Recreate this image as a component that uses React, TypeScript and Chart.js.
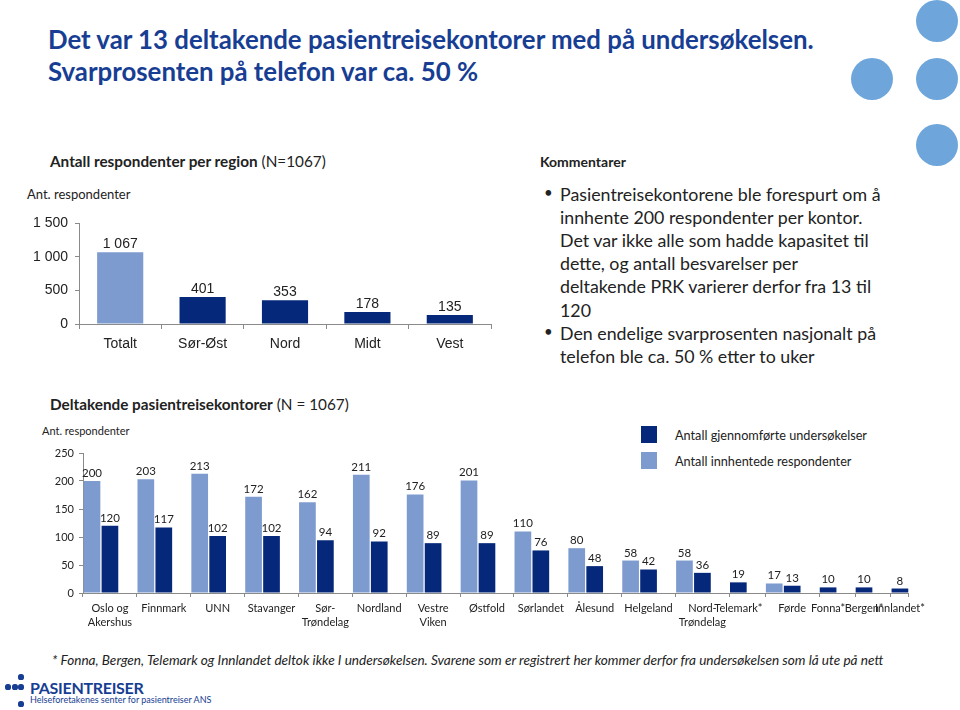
import React, { useEffect, useRef } from "react";
import { Chart, registerables } from "chart.js";
Chart.register(...registerables);

// ---------- Data ----------
const regionLabels = ["Totalt", "Sør-Øst", "Nord", "Midt", "Vest"];
const regionValues = [1067, 401, 353, 178, 135];
const regionTickValues = [0, 500, 1000, 1500];

const officeLabels: (string | string[])[] = [
  ["Oslo og", "Akershus"], "Finnmark", "UNN", "Stavanger", ["Sør-", "Trøndelag"],
  "Nordland", ["Vestre", "Viken"], "Østfold", "Sørlandet", "Ålesund", "Helgeland",
  ["Nord-", "Trøndelag"], "Telemark*", "Førde", "Fonna*", "Bergen*", "Innlandet*",
];
const collectedValues: (number | null)[] = [200, 203, 213, 172, 162, 211, 176, 201, 110, 80, 58, 58, null, 17, null, null, null];
const completedValues: number[] = [120, 117, 102, 102, 94, 92, 89, 89, 76, 48, 42, 36, 19, 13, 10, 10, 8];
const officeTickValues = [0, 50, 100, 150, 200, 250];

const LIGHT = "#7E9BCF";
const DARK = "#06287A";
const AXIS = "#8a8a8a";
const TITLE = "#173E93";
const CAL = "Lato, 'Open Sans', sans-serif";

const fmt = (v: number) => String(v).replace(/\B(?=(\d{3})+(?!\d))/g, " ");

// Build slot layout (light, dark, gap) per office
const slotLabels: (string | string[])[] = [];
const lightSlots: (number | null)[] = [];
const darkSlots: (number | null)[] = [];
const groupStarts: number[] = [];
officeLabels.forEach((lab, i) => {
  groupStarts.push(slotLabels.length);
  if (collectedValues[i] != null) {
    slotLabels.push("");
    lightSlots.push(collectedValues[i]);
    darkSlots.push(null);
  }
  slotLabels.push(lab);
  lightSlots.push(null);
  darkSlots.push(completedValues[i]);
  if (i < officeLabels.length - 1) {
    slotLabels.push("");
    lightSlots.push(null);
    darkSlots.push(null);
  }
});

const valueLabels = (font: string, gap: number) => ({
  id: "valueLabels",
  afterDatasetsDraw(chart: any) {
    const { ctx } = chart;
    ctx.save();
    ctx.font = font;
    ctx.fillStyle = "#222";
    ctx.textAlign = "center";
    ctx.textBaseline = "alphabetic";
    chart.data.datasets.forEach((ds: any, di: number) => {
      const meta = chart.getDatasetMeta(di);
      meta.data.forEach((el: any, i: number) => {
        const v = ds.data[i];
        if (v == null) return;
        ctx.fillText(fmt(v), el.x, el.y - gap);
      });
    });
    ctx.restore();
  },
});

function RegionChart() {
  const ref = useRef<HTMLCanvasElement>(null);
  useEffect(() => {
    const chart = new Chart(ref.current!, {
      type: "bar",
      data: {
        labels: regionLabels,
        datasets: [
          {
            data: regionValues,
            backgroundColor: regionValues.map((_, i) => (i === 0 ? LIGHT : DARK)),
            barPercentage: 0.56,
            categoryPercentage: 1,
          },
        ],
      },
      options: {
        animation: false,
        responsive: false,
        maintainAspectRatio: false,
        layout: { padding: { top: 23, right: 9, left: 0, bottom: 0 } },
        plugins: { legend: { display: false }, tooltip: { enabled: false } },
        scales: {
          x: {
            offset: true,
            grid: { offset: true, drawOnChartArea: false, drawTicks: true, tickLength: 5, color: AXIS },
            border: { color: AXIS },
            ticks: { font: { family: "'Liberation Sans', Arial", size: 14 }, color: "#222", padding: 7, maxRotation: 0, autoSkip: false },
            afterFit: (s: any) => { s.height = 36; },
          },
          y: {
            min: 0,
            max: 1500,
            afterBuildTicks: (s: any) => { s.ticks = regionTickValues.map((v) => ({ value: v })); },
            ticks: { font: { family: "'Liberation Sans', Arial", size: 14 }, color: "#222", padding: 7, callback: (v: any) => fmt(Number(v)) },
            grid: { drawOnChartArea: false, drawTicks: true, tickLength: 4, color: AXIS },
            border: { color: AXIS },
            afterFit: (s: any) => { s.width = 79; },
          },
        },
      },
      plugins: [valueLabels("14px 'Liberation Sans', Arial", 4)],
    } as any);
    return () => chart.destroy();
  }, []);
  return <canvas ref={ref} width={500} height={160} style={{ position: "absolute", left: 0, top: 200, width: 500, height: 160 }} />;
}

function OfficeChart() {
  const ref = useRef<HTMLCanvasElement>(null);
  useEffect(() => {
    const chart = new Chart(ref.current!, {
      type: "bar",
      data: {
        labels: slotLabels as any,
        datasets: [
          { label: "Antall innhentede respondenter", data: lightSlots, backgroundColor: LIGHT, barPercentage: 0.93, categoryPercentage: 1, grouped: false },
          { label: "Antall gjennomførte undersøkelser", data: darkSlots, backgroundColor: DARK, barPercentage: 0.93, categoryPercentage: 1, grouped: false },
        ],
      },
      options: {
        animation: false,
        responsive: false,
        maintainAspectRatio: false,
        layout: { padding: { top: 13, right: 7, left: 0, bottom: 0 } },
        plugins: { legend: { display: false }, tooltip: { enabled: false } },
        scales: {
          x: {
            offset: true,
            grid: {
              offset: true,
              drawOnChartArea: false,
              drawTicks: true,
              tickLength: 4,
              color: (c: any) => (c.type !== "tick" || groupStarts.includes(c.index) ? AXIS : "rgba(0,0,0,0)"),
            },
            border: { color: AXIS },
            ticks: { font: { family: CAL, size: 11, lineHeight: 1.25 }, color: "#222", padding: 5, maxRotation: 0, minRotation: 0, autoSkip: false },
            afterFit: (s: any) => { s.height = 37; },
          },
          y: {
            min: 0,
            max: 250,
            afterBuildTicks: (s: any) => { s.ticks = officeTickValues.map((v) => ({ value: v })); },
            ticks: { font: { family: CAL, size: 11 }, color: "#222", padding: 5 },
            grid: { drawOnChartArea: false, drawTicks: true, tickLength: 4, color: AXIS },
            border: { color: AXIS },
            afterFit: (s: any) => { s.width = 83; },
          },
        },
      },
      plugins: [valueLabels(`11.5px ${CAL}`, 4)],
    } as any);
    return () => chart.destroy();
  }, []);
  return <canvas ref={ref} width={930} height={190} style={{ position: "absolute", left: 0, top: 440, width: 930, height: 190 }} />;
}

const abs = (left: number, top: number, extra: React.CSSProperties = {}): React.CSSProperties => ({
  position: "absolute",
  left,
  top,
  whiteSpace: "nowrap",
  lineHeight: 1,
  ...extra,
});

const circle = (cx: number, cy: number, r: number): React.CSSProperties => ({
  position: "absolute",
  left: cx - r,
  top: cy - r,
  width: 2 * r,
  height: 2 * r,
  borderRadius: "50%",
  background: "#6EA6DB",
});

const dot = (cx: number, cy: number, r: number): React.CSSProperties => ({
  ...circle(cx, cy, r),
  background: TITLE,
});

const commentLines = [
  { bullet: true, text: "Pasientreisekontorene ble forespurt om å" },
  { bullet: false, text: "innhente 200 respondenter per kontor." },
  { bullet: false, text: "Det var ikke alle som hadde kapasitet til" },
  { bullet: false, text: "dette, og antall besvarelser per" },
  { bullet: false, text: "deltakende PRK varierer derfor fra 13 til" },
  { bullet: false, text: "120" },
  { bullet: true, text: "Den endelige svarprosenten nasjonalt på" },
  { bullet: false, text: "telefon ble ca. 50 % etter to uker" },
];

export default function App() {
  return (
    <div style={{ position: "absolute", left: 0, top: 0, width: 960, height: 710, background: "#fff", overflow: "hidden", fontFamily: CAL, color: "#222" }}>
      {/* decorative circles */}
      <div style={circle(937, 21, 21)} />
      <div style={circle(872, 79, 21)} />
      <div style={circle(937, 79, 21)} />
      <div style={circle(937, 145, 21)} />

      {/* title */}
      <div style={abs(48, 23, { fontSize: 25.8, fontWeight: 700, color: TITLE, lineHeight: "32px" })}>
        Det var 13 deltakende pasientreisekontorer med på undersøkelsen.
        <br />
        Svarprosenten på telefon var ca. 50 %
      </div>

      {/* top chart texts */}
      <div style={abs(50, 154, { fontSize: 15.3, color: "#222" })}>
        <b>Antall respondenter per region</b> (N=1067)
      </div>
      <div style={abs(27, 188, { fontSize: 13, color: "#222" })}>Ant. respondenter</div>
      <RegionChart />

      {/* comments */}
      <div style={abs(540, 155, { fontSize: 14, fontWeight: 700, color: "#222" })}>Kommentarer</div>
      {commentLines.map((l, i) => (
        <div key={i} style={abs(560, 186 + i * 23.1, { fontSize: 17.8, color: "#222" })}>
          {l.bullet && <span style={{ position: "absolute", left: -16, top: -1, fontSize: 15 }}>•</span>}
          {l.text}
        </div>
      ))}

      {/* bottom chart texts */}
      <div style={abs(50, 397, { fontSize: 15.3, color: "#222" })}>
        <b>Deltakende pasientreisekontorer</b> (N = 1067)
      </div>
      <div style={abs(42, 425, { fontSize: 11, color: "#222" })}>Ant. respondenter</div>

      {/* legend */}
      <div style={{ position: "absolute", left: 641, top: 426, width: 16, height: 17, background: DARK }} />
      <div style={abs(675, 429, { fontSize: 12.7 })}>Antall gjennomførte undersøkelser</div>
      <div style={{ position: "absolute", left: 641, top: 452, width: 16, height: 17, background: LIGHT }} />
      <div style={abs(675, 455, { fontSize: 12.7 })}>Antall innhentede respondenter</div>

      <OfficeChart />

      {/* footnote */}
      <div style={abs(52, 654, { fontSize: 13.6, fontStyle: "italic", color: "#222" })}>
        * Fonna, Bergen, Telemark og Innlandet deltok ikke I undersøkelsen. Svarene som er registrert her kommer derfor fra undersøkelsen som lå ute på nett
      </div>

      {/* logo */}
      <div style={dot(21, 677, 2.6)} />
      <div style={dot(8, 687, 2.6)} />
      <div style={dot(15, 687, 2.6)} />
      <div style={dot(21, 687, 2.6)} />
      <div style={dot(21, 704, 2.6)} />
      <div style={abs(30, 680, { fontSize: 16, fontWeight: 700, color: TITLE, letterSpacing: -0.3 })}>PASIENTREISER</div>
      <div style={abs(30, 695, { fontSize: 9, color: TITLE })}>Helseforetakenes senter for pasientreiser ANS</div>
    </div>
  );
}
